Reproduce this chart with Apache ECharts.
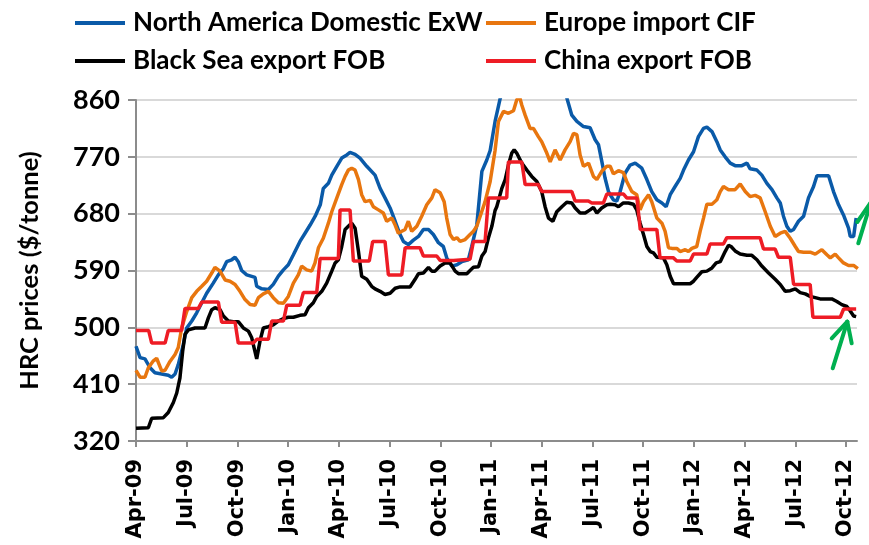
<!DOCTYPE html>
<html>
<head>
<meta charset="utf-8">
<script src="https://cdn.jsdelivr.net/npm/echarts@6/dist/echarts.min.js"></script>
<style>
html,body{margin:0;padding:0;background:#fff;}
#chart{width:869px;height:545px;}
</style>
</head>
<body>
<div id="chart"></div>
<script>
// x values are months since April 2009
const tickMonths = [0,3,6,9,12,15,18,21,24,27,30,33,36,39,42];
const tickLabels = ['Apr-09','Jul-09','Oct-09','Jan-10','Apr-10','Jul-10','Oct-10','Jan-11','Apr-11','Jul-11','Oct-11','Jan-12','Apr-12','Jul-12','Oct-12'];
const seriesNames = ['North America Domestic ExW','Europe import CIF','Black Sea export FOB','China export FOB'];

const northAmerica = [[0,470],[0.24,452],[0.53,450],[0.83,436],[1.12,428],[1.52,426],[1.91,424],[2.11,421],[2.31,426],[2.5,441],[2.8,473],[3.0,499],[3.3,510],[3.59,523],[3.89,539],[4.18,554],[4.57,570],[4.87,583],[5.17,593],[5.36,604],[5.66,607],[5.86,611],[6.05,604],[6.25,590],[6.55,583],[7.04,579],[7.14,565],[7.44,561],[7.83,560],[8.12,568],[8.42,581],[8.72,591],[9.01,599],[9.31,615],[9.7,636],[10.0,649],[10.3,662],[10.6,676],[10.9,694],[11.08,720],[11.38,728],[11.58,741],[11.88,755],[12.17,768],[12.47,773],[12.66,777],[12.96,774],[13.25,768],[13.65,755],[14.14,741],[14.44,720],[14.73,705],[15.03,689],[15.33,668],[15.62,647],[15.82,636],[16.11,631],[16.41,638],[16.71,644],[17.0,655],[17.3,655],[17.59,647],[17.89,634],[18.18,628],[18.38,610],[18.68,597],[18.98,599],[19.27,604],[19.66,607],[19.86,628],[20.16,662],[20.46,747],[20.75,765],[20.95,780],[21.24,826],[21.54,862],[22.0,900],[22.5,930],[23.0,950],[23.5,960],[24.0,960],[24.5,945],[25.0,910],[25.52,860],[25.78,836],[26.08,826],[26.47,818],[26.86,816],[27.16,797],[27.36,789],[27.56,762],[27.75,736],[27.95,715],[28.05,710],[28.24,702],[28.44,700],[28.64,715],[28.93,744],[29.23,757],[29.53,760],[29.92,752],[30.22,734],[30.51,715],[30.81,702],[31.11,697],[31.36,691],[31.6,710],[31.89,723],[32.19,736],[32.39,749],[32.68,765],[32.98,778],[33.27,802],[33.57,815],[33.77,817],[34.07,810],[34.36,794],[34.56,781],[34.85,770],[35.15,760],[35.44,756],[35.84,756],[36.14,760],[36.33,751],[36.73,749],[37.02,741],[37.32,728],[37.62,718],[37.91,705],[38.11,697],[38.3,676],[38.5,660],[38.7,652],[38.9,655],[39.19,668],[39.49,676],[39.78,705],[40.08,723],[40.28,740],[40.57,740],[40.97,740],[41.26,715],[41.56,694],[41.85,678],[42.15,657],[42.25,644],[42.45,644],[42.6,673]];

const europe = [[0,432],[0.24,421],[0.53,421],[0.73,436],[1.03,447],[1.22,451],[1.52,431],[1.72,432],[2.01,446],[2.31,457],[2.5,468],[2.7,499],[3.0,525],[3.3,547],[3.59,557],[3.89,565],[4.18,573],[4.48,586],[4.67,595],[4.97,589],[5.27,575],[5.56,573],[5.86,568],[6.15,557],[6.45,544],[6.75,536],[7.04,535],[7.24,547],[7.53,553],[7.83,557],[8.12,547],[8.42,539],[8.72,538],[9.01,549],[9.31,570],[9.6,583],[9.8,597],[10.1,591],[10.39,589],[10.59,602],[10.79,626],[11.08,641],[11.38,665],[11.58,683],[11.88,705],[12.17,726],[12.37,739],[12.56,749],[12.76,752],[12.96,749],[13.16,734],[13.35,710],[13.55,699],[13.85,701],[14.04,691],[14.34,686],[14.63,681],[14.83,668],[15.13,673],[15.33,662],[15.52,649],[15.72,652],[15.92,655],[16.11,668],[16.31,652],[16.61,660],[16.9,676],[17.2,694],[17.5,705],[17.69,718],[17.99,713],[18.23,699],[18.38,673],[18.58,647],[18.78,639],[18.98,642],[19.17,636],[19.47,639],[19.76,647],[19.96,652],[20.16,660],[20.36,676],[20.65,699],[20.95,731],[21.24,780],[21.44,826],[21.74,842],[22.03,839],[22.33,843],[22.52,860],[22.68,866],[22.82,852],[23.02,836],[23.31,815],[23.51,815],[23.8,802],[24.0,794],[24.3,776],[24.5,762],[24.79,781],[25.09,765],[25.38,781],[25.68,794],[25.88,807],[26.08,805],[26.27,773],[26.47,755],[26.77,760],[27.06,739],[27.26,734],[27.55,747],[27.85,755],[28.05,755],[28.24,743],[28.54,748],[28.83,745],[29.03,731],[29.33,715],[29.62,710],[29.82,686],[30.02,699],[30.32,710],[30.51,699],[30.81,673],[31.11,665],[31.3,652],[31.5,626],[31.7,625],[32.0,625],[32.19,620],[32.49,623],[32.68,620],[32.88,625],[33.17,628],[33.37,652],[33.57,673],[33.77,695],[34.07,695],[34.36,702],[34.56,715],[34.75,723],[35.05,718],[35.44,718],[35.74,727],[36.04,715],[36.33,707],[36.63,709],[36.92,705],[37.22,683],[37.52,660],[37.81,644],[38.11,649],[38.4,652],[38.7,641],[39.0,628],[39.19,620],[39.49,619],[39.88,619],[40.18,616],[40.57,623],[40.87,615],[41.07,610],[41.36,616],[41.56,610],[41.85,602],[42.15,598],[42.45,598],[42.7,593]];

const blackSea = [[0,340],[0.73,341],[0.93,356],[1.62,357],[1.91,365],[2.21,381],[2.41,396],[2.6,420],[2.76,462],[2.9,489],[3.1,496],[3.49,499],[4.08,499],[4.28,515],[4.48,528],[4.67,531],[4.97,528],[5.17,518],[5.46,510],[5.76,509],[6.05,509],[6.35,499],[6.65,494],[6.84,484],[7.14,450],[7.34,479],[7.53,499],[7.83,501],[8.12,504],[8.42,510],[8.72,514],[9.01,516],[9.31,516],[9.7,519],[10.0,520],[10.2,531],[10.49,539],[10.69,549],[10.99,557],[11.28,570],[11.58,589],[11.78,602],[11.97,607],[12.17,628],[12.37,655],[12.56,660],[12.76,665],[12.96,657],[13.16,620],[13.35,581],[13.65,576],[13.94,565],[14.14,561],[14.44,557],[14.73,552],[15.03,554],[15.33,562],[15.62,564],[16.21,564],[16.51,576],[16.71,585],[17.0,586],[17.3,595],[17.5,589],[17.69,589],[17.99,597],[18.28,602],[18.58,602],[18.88,589],[19.07,585],[19.57,585],[19.76,590],[19.96,595],[20.26,596],[20.46,613],[20.65,620],[20.85,642],[21.05,660],[21.24,685],[21.34,691],[21.64,720],[21.84,734],[22.03,757],[22.23,776],[22.37,781],[22.52,776],[22.82,760],[23.12,749],[23.41,739],[23.71,731],[24.0,715],[24.2,691],[24.4,673],[24.66,668],[24.89,683],[25.19,691],[25.48,698],[25.78,697],[25.98,689],[26.27,681],[26.57,681],[26.86,686],[27.06,690],[27.26,681],[27.55,689],[27.85,694],[28.05,695],[28.34,694],[28.54,691],[28.83,697],[29.13,697],[29.42,695],[29.62,686],[29.82,665],[30.02,647],[30.22,628],[30.42,620],[30.61,618],[30.81,611],[31.2,610],[31.4,599],[31.6,581],[31.8,569],[32.78,569],[32.98,573],[33.17,579],[33.47,588],[33.77,589],[34.07,594],[34.32,602],[34.56,604],[34.85,620],[35.05,630],[35.2,628],[35.44,621],[35.74,616],[36.14,614],[36.43,614],[36.73,607],[37.02,597],[37.42,586],[37.81,576],[38.11,568],[38.4,557],[38.7,558],[39.0,561],[39.29,555],[39.59,553],[39.88,549],[40.18,547],[40.47,545],[41.16,545],[41.46,541],[41.75,536],[42.05,533],[42.25,526],[42.45,518],[42.6,517]];

const china = [[0,495],[0.75,495],[0.93,475],[1.72,475],[1.91,495],[2.7,495],[2.9,530],[3.69,530],[3.89,540],[4.87,540],[5.07,508],[5.86,508],[6.05,475],[6.94,475],[7.14,481],[7.83,481],[8.03,510],[8.72,510],[8.92,535],[9.7,535],[9.9,555],[10.69,555],[10.89,609],[11.97,609],[12.07,686],[12.66,686],[12.86,605],[13.8,605],[14.0,636],[14.73,636],[14.93,583],[15.72,583],[15.92,626],[16.8,626],[17.0,613],[17.79,613],[17.99,606],[18.78,606],[18.88,608],[19.76,608],[19.96,636],[20.65,636],[20.85,705],[21.93,705],[22.03,762],[22.82,762],[23.02,726],[23.8,726],[24.0,715],[25.78,715],[25.98,700],[26.76,700],[26.96,697],[27.65,697],[27.85,711],[28.84,711],[29.03,705],[29.63,705],[29.83,655],[30.81,655],[31.0,610],[31.79,610],[31.99,605],[32.78,605],[32.98,616],[33.77,616],[33.96,632],[34.75,632],[34.95,642],[36.92,642],[37.12,624],[37.81,624],[38.0,611],[38.7,611],[38.9,568],[39.88,568],[40.04,516],[41.66,516],[41.86,529],[42.6,529]];

const colors = ['#0a5aa8','#e8760f','#000000','#ee1c25'];
const seriesData = [northAmerica, europe, blackSea, china];

const FONT = 'Lato';
const chart = echarts.init(document.getElementById('chart'), null, {renderer:'canvas'});

function legendAt(name, left, top){
  return {
    data:[name], left:left, top:top, padding:0, orient:'horizontal',
    icon:'rect', itemWidth:50, itemHeight:4, itemGap:0,
    textStyle:{fontFamily:FONT, fontWeight:'bold', fontSize:26, color:'#000', padding:[0,0,0,3]},
    selectedMode:false
  };
}

const arrowStyle = {stroke:'#00b050', lineWidth:4, lineCap:'round'};

chart.setOption({
  animation:false,
  backgroundColor:'#fff',
  color: colors,
  legend:[
    legendAt(seriesNames[0], 75, 10),
    legendAt(seriesNames[1], 486, 10),
    legendAt(seriesNames[2], 75, 48),
    legendAt(seriesNames[3], 486, 48)
  ],
  grid:{left:136, right:12, top:100, bottom:104, containLabel:false},
  xAxis:{
    type:'value', min:0, max:42.65, interval:3,
    axisLine:{show:true, lineStyle:{color:'#8c8c8c', width:2}},
    axisTick:{show:true, length:6, lineStyle:{color:'#8c8c8c', width:2}, customValues:tickMonths},
    splitLine:{show:false},
    axisLabel:{
      customValues:tickMonths,
      rotate:90, margin:18,
      fontFamily:'DejaVu Sans', fontWeight:'bold', fontSize:21, color:'#000',
      formatter:function(v){
        const i = Math.round(v/3);
        if (Math.abs(v - i*3) > 1e-6 || i < 0 || i >= tickLabels.length) return '';
        return tickLabels[i];
      }
    }
  },
  yAxis:{
    type:'value', min:320, max:860, interval:90,
    name:'HRC prices ($/tonne)', nameLocation:'middle', nameGap:93, nameRotate:90,
    nameTextStyle:{fontFamily:FONT, fontWeight:'bold', fontSize:25.5, color:'#000'},
    axisLine:{show:true, lineStyle:{color:'#8c8c8c', width:2}},
    axisTick:{show:true, length:8, lineStyle:{color:'#8c8c8c', width:2}},
    splitLine:{show:true, lineStyle:{color:'#d9d9d9', width:2}},
    axisLabel:{margin:16, fontFamily:FONT, fontWeight:'bold', fontSize:27, color:'#000'}
  },
  series: seriesData.map(function(d,i){
    return {
      name:seriesNames[i], type:'line', data:d, showSymbol:false, symbol:'none',
      clip:true, lineStyle:{color:colors[i], width:3.5}, itemStyle:{color:colors[i]},
      z: 2+i
    };
  }),
  graphic:[
    {type:'line', shape:{x1:832.7,y1:368.3,x2:847.3,y2:321.7}, style:arrowStyle, z:100},
    {type:'line', shape:{x1:847.3,y1:321.7,x2:831.7,y2:338.3}, style:arrowStyle, z:100},
    {type:'line', shape:{x1:847.3,y1:321.7,x2:851.7,y2:343.3}, style:arrowStyle, z:100},
    {type:'line', shape:{x1:858.3,y1:243.3,x2:871,y2:202}, style:arrowStyle, z:100},
    {type:'line', shape:{x1:871,y1:202,x2:857.3,y2:222}, style:arrowStyle, z:100}
  ]
});
</script>
</body>
</html>
